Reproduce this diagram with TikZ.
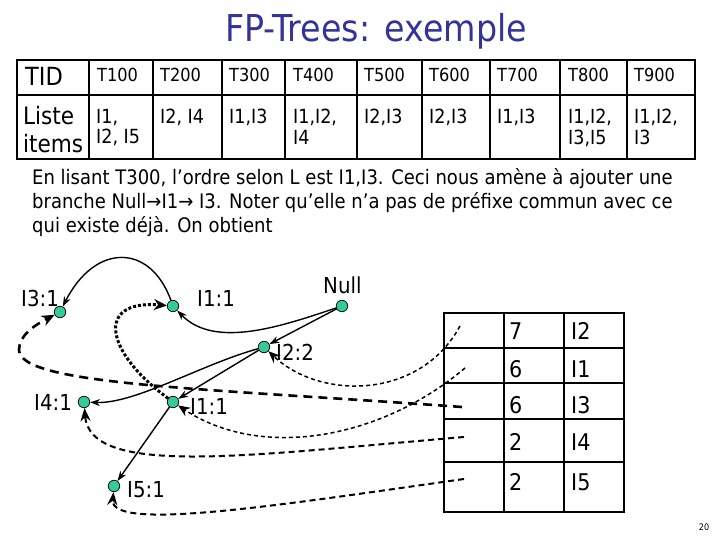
\documentclass[tikz,border=0pt]{standalone}
\usepackage{fontspec}
\setmainfont{DejaVu Sans}[FakeStretch=0.9]
\usepackage{tikz}
\usetikzlibrary{arrows.meta,positioning}
\definecolor{titleblue}{HTML}{333399}
\definecolor{nodegreen}{HTML}{33CC99}
\tikzset{
  gridline/.style={line width=2.6pt,line cap=rect},
  treenode/.style={circle,draw=black,fill=nodegreen,line width=0.7pt,
                   minimum size=11.5pt,inner sep=0pt},
  treelabel/.style={font=\fontsize{22}{26}\selectfont,inner sep=0pt,anchor=west},
  celltext/.style={font=\fontsize{18}{21}\selectfont,inner sep=0pt,anchor=base west},
  itemtext/.style={font=\fontsize{19.5}{20.5}\selectfont,inner sep=0pt,
                   anchor=north west,align=left},
  headtext/.style={font=\fontsize{23}{26}\selectfont,inner sep=0pt,anchor=base west},
  arrowtree/.style={-{Stealth[length=10pt,width=7pt]},line width=1.4pt},
  linkdot/.style={-{Stealth[length=13pt,width=11pt]},line width=3pt,
                  dash pattern=on 3pt off 2pt},
  linkthick/.style={-{Stealth[length=13pt,width=11pt]},line width=2.6pt,
                    dash pattern=on 9pt off 6pt},
  linkthin/.style={-{Stealth[length=12pt,width=10pt]},line width=1.5pt,
                   dash pattern=on 4pt off 3pt},
  linkmid/.style={-{Stealth[length=13pt,width=10pt]},line width=2pt,
                  dash pattern=on 6pt off 4pt},
}

\begin{document}
\begin{tikzpicture}[x=1pt,y=-1pt]
  \useasboundingbox (0,0) rectangle (720,540);

  % titre
  \node[font=\fontsize{37}{42}\selectfont,text=titleblue,inner sep=0pt]
    (titre) at (376,31) {FP-Trees: exemple};

  % table des transactions
  \draw[gridline] (17,60) rectangle (695,159);
  \draw[gridline] (17,95) -- (695,95)
    (89,60) -- (89,159) (153,60) -- (153,159) (222,60) -- (222,159)
    (285,60) -- (285,159) (357,60) -- (357,159) (422,60) -- (422,159)
    (490,60) -- (490,159) (560,60) -- (560,159) (627,60) -- (627,159);
  \node[font=\fontsize{25}{27}\selectfont,inner sep=0pt,anchor=base west]
    (tid) at (25,86) {TID};
  \node[celltext](t1)at(97,82){T100};
  \node[celltext](t2)at(160,82){T200};
  \node[celltext](t3)at(229,82){T300};
  \node[celltext](t4)at(293,82){T400};
  \node[celltext](t5)at(364,82){T500};
  \node[celltext](t6)at(429,82){T600};
  \node[celltext](t7)at(497,82){T700};
  \node[celltext](t8)at(568,82){T800};
  \node[celltext](t9)at(634,82){T900};
  \node[font=\fontsize{24}{28}\selectfont,inner sep=0pt,anchor=north west,
        align=left] (liste) at (23,106) {Liste\\items};
  \node[itemtext](l1)at(96,109){I1,\\I2, I5};
  \node[itemtext](l2)at(160,109){I2, I4};
  \node[itemtext](l3)at(229,109){I1,I3};
  \node[itemtext](l4)at(293,109){I1,I2,\\I4};
  \node[itemtext](l5)at(364,109){I2,I3};
  \node[itemtext](l6)at(429,109){I2,I3};
  \node[itemtext](l7)at(497,109){I1,I3};
  \node[itemtext](l8)at(568,109){I1,I2,\\I3,I5};
  \node[itemtext](l9)at(634,109){I1,I2,\\I3};

  % explication
  \node[font=\fontsize{20}{24}\selectfont,inner sep=0pt,anchor=north west,
        align=left] (texte) at (32,168) {%
    En lisant T300, l’ordre selon L est I1,I3. Ceci nous amène à ajouter une\\
    branche Null→I1→ I3. Noter qu’elle n’a pas de préfixe commun avec ce\\
    qui existe déjà. On obtient};

  % table des en-tetes
  \draw[gridline] (444,313) rectangle (624,512);
  \draw[gridline] (504,313) -- (504,512) (564,313) -- (564,512)
    (444,348) -- (624,348) (444,383) -- (624,383)
    (444,419) -- (624,419) (444,462) -- (624,462);
  \node[headtext](c7)at(509,339){7};
  \node[headtext](c6a)at(509,377){6};
  \node[headtext](c6b)at(509,413){6};
  \node[headtext](c2a)at(509,450){2};
  \node[headtext](c2b)at(509,490){2};
  \node[headtext](h2)at(571,339){I2};
  \node[headtext](h1)at(571,377){I1};
  \node[headtext](h3)at(571,413){I3};
  \node[headtext](h4)at(571,450){I4};
  \node[headtext](h5)at(571,490){I5};
  \coordinate (p2) at (460,326);
  \coordinate (p1) at (465,368);
  \coordinate (p3) at (462,407);
  \coordinate (p4) at (464,437);
  \coordinate (p5) at (464,479);

  % arbre
  \node[treenode](null)at(342,306){};
  \node[treenode](i1a)at(173,306){};
  \node[treenode](i3)at(60,312){};
  \node[treenode](i2)at(264,347){};
  \node[treenode](i4)at(84,402){};
  \node[treenode](i1b)at(173,402){};
  \node[treenode](i5)at(114,486){};
  \node[treelabel](lnull)at(323,285){Null};
  \node[treelabel](li1a)at(197,298){I1:1};
  \node[treelabel](li3)at(21,298){I3:1};
  \node[treelabel](li2)at(276,352){I2:2};
  \node[treelabel](li4)at(34,402){I4:1};
  \node[treelabel](li1b)at(190,406){I1:1};
  \node[treelabel](li5)at(127,490){I5:1};

  \draw[arrowtree] (null) -- (i2);
  \draw[arrowtree] (null) .. controls (285,325) and (215,350) .. (i1a);
  \draw[arrowtree] (i1a) .. controls (150,243) and (95,243) .. (i3);
  \draw[arrowtree] (i2) .. controls (200,365) and (135,404) .. (i4);
  \draw[arrowtree] (i2) -- (i1b);
  \draw[arrowtree] (i1b) -- (i5);

  % liens entre noeuds
  \draw[linkdot] (i1b) .. controls (105,352) and (95,300) .. (i1a);
  \draw[linkthin] (p2) .. controls (420,400) and (320,400) .. (i2);
  \draw[linkthin] (p1) .. controls (380,440) and (260,460) .. (i1b);
  \draw[linkthick] (p3) .. controls (200,388) and (20,385) .. (19,350)
    .. controls (19,335) and (35,325) .. (i3);
  \draw[linkmid] (p4) .. controls (250,455) and (90,478) .. (i4);
  \draw[linkmid] (p5) .. controls (280,505) and (110,532) .. (i5);

  \node[font=\fontsize{9}{10}\selectfont,inner sep=0pt](page)at(704,527){20};
\end{tikzpicture}
\end{document}
